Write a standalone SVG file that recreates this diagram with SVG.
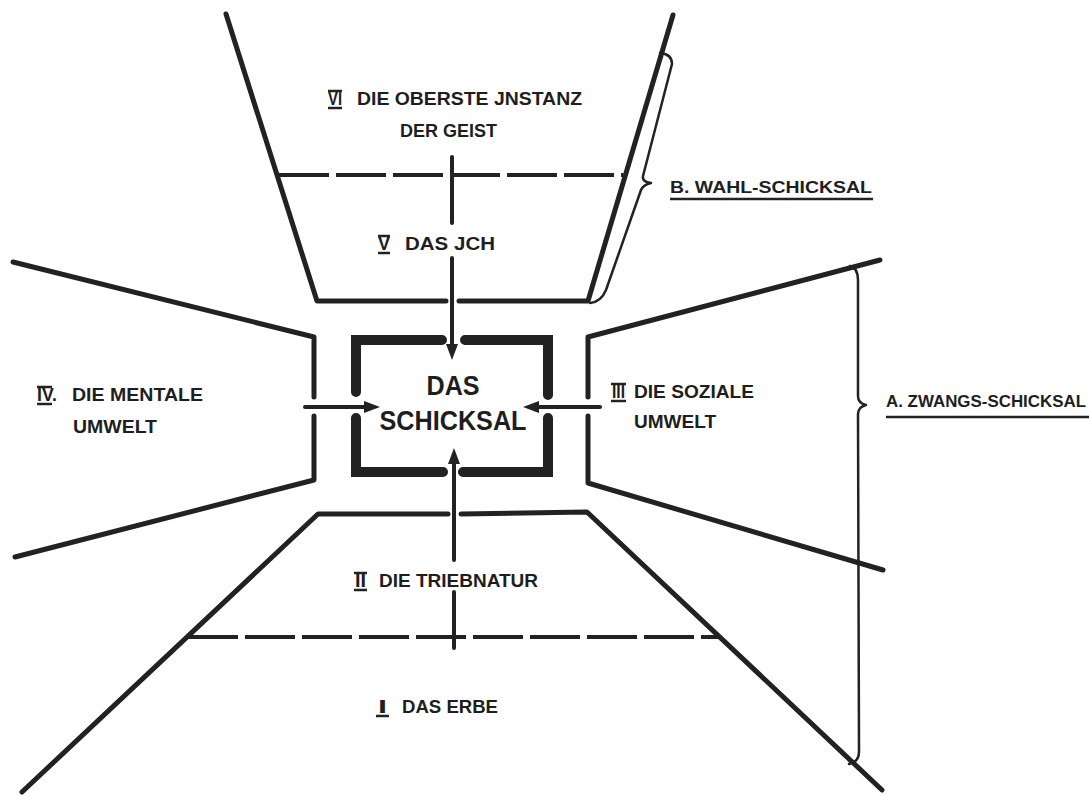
<svg xmlns="http://www.w3.org/2000/svg" width="1089" height="796" viewBox="0 0 1089 796">
<style>
.wall{fill:none;stroke:#222;stroke-width:5;stroke-linecap:round;stroke-linejoin:round}
.dash{fill:none;stroke:#222;stroke-width:4;stroke-dasharray:50 7}
.box{fill:none;stroke:#222;stroke-width:10;stroke-linecap:round;stroke-linejoin:miter}
.brace{fill:none;stroke:#222;stroke-width:2.5;stroke-linecap:round;stroke-linejoin:round}
.conn{fill:none;stroke:#222;stroke-width:4;stroke-linecap:round}
.bar{stroke:#222;stroke-width:2.5}
text{font-family:"Liberation Sans",Arial,sans-serif;font-weight:bold;fill:#1e1e1e}
.lbl{font-size:19px}
.big{font-size:28px}
.side{font-size:17px}
</style>
<defs>
<marker id="arr" viewBox="0 0 16 12" refX="4" refY="6" markerWidth="16" markerHeight="12" markerUnits="userSpaceOnUse" orient="auto">
<path d="M0,0 L16,6 L0,12 z" fill="#222"/>
</marker>
</defs>
<rect width="1089" height="796" fill="#fff"/>

<g id="top-region">
<path class="wall" d="M226,14 L317,301 L446,301 M459,301 L588,301 L673,15"/>
<line class="dash" x1="279" y1="175" x2="623" y2="175"/>
<text class="lbl" x="328" y="105" textLength="14" lengthAdjust="spacingAndGlyphs">VI</text>
<line class="bar" x1="328" y1="91" x2="342" y2="91"/><line class="bar" x1="328" y1="108" x2="342" y2="108"/>
<text class="lbl" x="357" y="105" textLength="225" lengthAdjust="spacingAndGlyphs">DIE OBERSTE JNSTANZ</text>
<text class="lbl" x="400" y="137" textLength="97" lengthAdjust="spacingAndGlyphs">DER GEIST</text>
<text class="lbl" x="378" y="250" textLength="12" lengthAdjust="spacingAndGlyphs">V</text>
<line class="bar" x1="378" y1="236" x2="390" y2="236"/><line class="bar" x1="378" y1="253" x2="390" y2="253"/>
<text class="lbl" x="405" y="250" textLength="90" lengthAdjust="spacingAndGlyphs">DAS JCH</text>
</g>

<g id="left-region">
<path class="wall" d="M13,262 L314,337 L314,397 M314,416 L314,480 L15,557"/>
<text class="lbl" x="37" y="401" textLength="20" lengthAdjust="spacingAndGlyphs">IV.</text>
<line class="bar" x1="37" y1="387" x2="52" y2="387"/><line class="bar" x1="37" y1="404" x2="52" y2="404"/>
<text class="lbl" x="72" y="401" textLength="131" lengthAdjust="spacingAndGlyphs">DIE MENTALE</text>
<text class="lbl" x="73" y="433" textLength="84" lengthAdjust="spacingAndGlyphs">UMWELT</text>
</g>

<g id="right-region">
<path class="wall" d="M880,260 L588,337 L588,397 M588,416 L588,483 L883,570"/>
<text class="lbl" x="612" y="398" textLength="13" lengthAdjust="spacingAndGlyphs">III</text>
<line class="bar" x1="611" y1="384" x2="626" y2="384"/><line class="bar" x1="611" y1="401" x2="626" y2="401"/>
<text class="lbl" x="634" y="398" textLength="120" lengthAdjust="spacingAndGlyphs">DIE SOZIALE</text>
<text class="lbl" x="634" y="428" textLength="82" lengthAdjust="spacingAndGlyphs">UMWELT</text>
</g>

<g id="bottom-region">
<path class="wall" d="M22,792 L318,514 L448,514 M461,514 L587,512 L882,790"/>
<line class="dash" x1="188" y1="637" x2="720" y2="637"/>
<text class="lbl" x="355" y="587" textLength="11" lengthAdjust="spacingAndGlyphs">II</text>
<line class="bar" x1="354" y1="573" x2="367" y2="573"/><line class="bar" x1="354" y1="590" x2="367" y2="590"/>
<text class="lbl" x="379" y="587" textLength="159" lengthAdjust="spacingAndGlyphs">DIE TRIEBNATUR</text>
<text class="lbl" x="378" y="713" textLength="9" lengthAdjust="spacingAndGlyphs">I</text>
<line class="bar" x1="376" y1="716" x2="389" y2="716"/>
<text class="lbl" x="402" y="713" textLength="96" lengthAdjust="spacingAndGlyphs">DAS ERBE</text>
</g>

<g id="center">
<path class="box" d="M442,340 L356,340 L356,392"/>
<path class="box" d="M465,340 L548,340 L548,395"/>
<path class="box" d="M356,418 L356,472 L443,472"/>
<path class="box" d="M548,418 L548,472 L463,472"/>
<text class="big" x="453" y="395" text-anchor="middle" textLength="53" lengthAdjust="spacingAndGlyphs">DAS</text>
<text class="big" x="453" y="430" text-anchor="middle" textLength="147" lengthAdjust="spacingAndGlyphs">SCHICKSAL</text>
</g>

<g id="group-B">
<path class="brace" d="M660,53 Q672,54 672,64 L643,176 Q642,182 651,183 Q643,185 641,190 L606,290 Q601,302 590,303"/>
<text class="side" x="670" y="193" textLength="202" lengthAdjust="spacingAndGlyphs">B. WAHL-SCHICKSAL</text>
<line x1="670" y1="199" x2="873" y2="199" stroke="#222" stroke-width="2.5"/>
</g>

<g id="group-A">
<path class="brace" d="M850,266 Q858,268 858,280 L858,396 Q858,403 866,405 Q858,407 858,414 L859,752 Q859,762 849,764"/>
<text class="side" x="886" y="407" textLength="200" lengthAdjust="spacingAndGlyphs">A. ZWANGS-SCHICKSAL</text>
<line x1="886" y1="417" x2="1089" y2="417" stroke="#222" stroke-width="2.5"/>
</g>

<g id="connectors">
<line class="conn" x1="452" y1="157" x2="452" y2="223"/>
<line class="conn" x1="452" y1="258" x2="452" y2="348" marker-end="url(#arr)"/>
<line class="conn" x1="454" y1="648" x2="454" y2="592"/>
<line class="conn" x1="454" y1="560" x2="454" y2="460" marker-end="url(#arr)"/>
<line class="conn" x1="305" y1="407" x2="368" y2="407" marker-end="url(#arr)"/>
<line class="conn" x1="600" y1="407" x2="535" y2="407" marker-end="url(#arr)"/>
</g>
</svg>
